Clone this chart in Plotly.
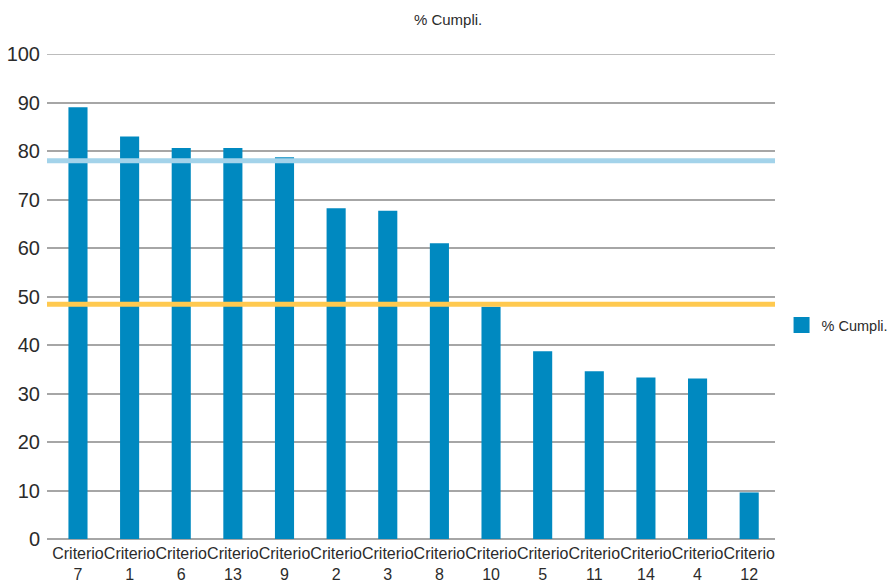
import plotly.graph_objects as go

# Compliance percentage per criterion, sorted descending
criterios = ["Criterio<br>7", "Criterio<br>1", "Criterio<br>6", "Criterio<br>13",
             "Criterio<br>9", "Criterio<br>2", "Criterio<br>3", "Criterio<br>8",
             "Criterio<br>10", "Criterio<br>5", "Criterio<br>11", "Criterio<br>14",
             "Criterio<br>4", "Criterio<br>12"]
cumplimiento = [89.0, 83.0, 80.6, 80.6, 78.7, 68.2, 67.7, 61.0,
                47.9, 38.7, 34.6, 33.3, 33.1, 9.6]

# Reference levels drawn across the chart
nivel_alto = 78.0
nivel_medio = 48.4

y_ticks = [0, 10, 20, 30, 40, 50, 60, 70, 80, 90, 100]

BAR_COLOR = "#0089C0"
GRID = "#A6A6A6"
FONT = "Liberation Sans, Arial, sans-serif"
TEXT = "#2b2b2b"

fig = go.Figure()

fig.add_trace(go.Bar(
    x=criterios,
    y=cumplimiento,
    marker=dict(color=BAR_COLOR, line=dict(width=0)),
    width=0.37,
    showlegend=False,
    name="% Cumpli.",
))

# Legend entry with a larger square swatch
fig.add_trace(go.Scatter(
    x=[None], y=[None],
    mode="markers",
    marker=dict(symbol="square", size=16, color=BAR_COLOR),
    name="% Cumpli.",
    showlegend=True,
))

# Top gridline at 100 (plotly omits the gridline at the range edge)
fig.add_shape(type="line", xref="paper", yref="y", x0=0, x1=1,
              y0=y_ticks[-1], y1=y_ticks[-1],
              line=dict(color=GRID, width=1.5), layer="below")

fig.add_shape(type="line", xref="paper", yref="y", x0=0, x1=1,
              y0=nivel_alto, y1=nivel_alto,
              line=dict(color="#A3D3EA", width=5), layer="above")
fig.add_shape(type="line", xref="paper", yref="y", x0=0, x1=1,
              y0=nivel_medio, y1=nivel_medio,
              line=dict(color="#FFC94F", width=5), layer="above")

fig.update_layout(
    width=889,
    height=585,
    margin=dict(l=47, r=114, t=54, b=46, autoexpand=False),
    paper_bgcolor="white",
    plot_bgcolor="white",
    font=dict(family=FONT, color=TEXT),
    title=dict(text="% Cumpli.", x=0.504, xref="container", xanchor="center",
               y=1 - 20 / 585, yref="container", yanchor="middle",
               font=dict(size=15, family=FONT, color=TEXT)),
    legend=dict(x=1.009, xanchor="left", y=0.441, yanchor="middle",
                font=dict(size=14.5, family=FONT, color=TEXT),
                itemsizing="trace", bgcolor="rgba(0,0,0,0)"),
    bargap=0.63,
    xaxis=dict(
        type="category",
        range=[-0.6, 13.5],
        showgrid=False,
        showline=False,
        zeroline=False,
        ticks="",
        tickangle=0,
        ticklabelstandoff=3,
        tickfont=dict(size=16, family=FONT, color=TEXT),
        automargin=False,
    ),
    yaxis=dict(
        range=[0, 100],
        tickvals=y_ticks,
        ticktext=[str(v) for v in y_ticks],
        showgrid=True,
        gridcolor=GRID,
        gridwidth=1.5,
        zeroline=True,
        zerolinecolor=GRID,
        zerolinewidth=1.5,
        showline=False,
        ticks="",
        ticklabelstandoff=6,
        tickfont=dict(size=20, family=FONT, color=TEXT),
        automargin=False,
    ),
)

fig.write_html("out.html")
